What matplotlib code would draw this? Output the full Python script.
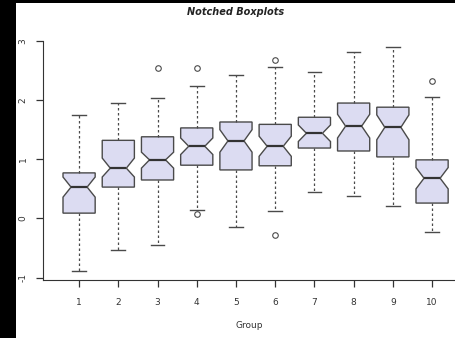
import matplotlib
matplotlib.use('Agg')
import matplotlib.pyplot as plt
from matplotlib.patches import Rectangle

# box statistics (10 groups)
groups = ['1', '2', '3', '4', '5', '6', '7', '8', '9', '10']
whis_lo = [-0.89, -0.53, -0.45, 0.14, -0.14, 0.13, 0.45, 0.38, 0.21, -0.23]
q1 = [0.09, 0.53, 0.65, 0.90, 0.82, 0.89, 1.19, 1.14, 1.04, 0.26]
med = [0.53, 0.85, 0.99, 1.22, 1.31, 1.22, 1.44, 1.56, 1.54, 0.68]
q3 = [0.77, 1.32, 1.38, 1.53, 1.63, 1.59, 1.71, 1.95, 1.88, 0.99]
whis_hi = [1.75, 1.95, 2.03, 2.24, 2.42, 2.56, 2.47, 2.81, 2.89, 2.05]
ci_lo = [0.36, 0.70, 0.85, 1.08, 1.12, 1.05, 1.30, 1.36, 1.33, 0.50]
ci_hi = [0.70, 1.02, 1.12, 1.36, 1.50, 1.39, 1.58, 1.76, 1.75, 0.86]
outliers = [[], [], [2.54], [2.54, 0.07], [], [2.68, -0.28], [], [], [], [2.32]]

y_ticks = [-1, 0, 1, 2, 3]

stats = []
for i, g in enumerate(groups):
    stats.append({'label': g, 'whislo': whis_lo[i], 'q1': q1[i], 'med': med[i],
                  'q3': q3[i], 'whishi': whis_hi[i], 'cilo': ci_lo[i],
                  'cihi': ci_hi[i], 'fliers': outliers[i]})

fig = plt.figure(figsize=(4.56, 3.38), dpi=100, facecolor='black')
# white page with the black margin on the left and top
fig.patches.append(Rectangle((16 / 456, 0), 1, 335 / 338, transform=fig.transFigure,
                             facecolor='white', edgecolor='none', zorder=-10))

ax = fig.add_axes([43 / 456, 58 / 338, 413 / 456, 245 / 338])
ax.set_facecolor('none')

edge = '#4a4a4a'
ax.bxp(stats, positions=range(1, 11), widths=0.82, capwidths=0.35, shownotches=True,
       patch_artist=True,
       boxprops=dict(facecolor='#dcdcf2', edgecolor=edge, linewidth=1.0),
       medianprops=dict(color='#333333', linewidth=1.6),
       whiskerprops=dict(color=edge, linestyle=(0, (2, 2)), linewidth=0.9),
       capprops=dict(color=edge, linewidth=1.0),
       flierprops=dict(marker='o', markersize=4, markerfacecolor='none',
                       markeredgecolor=edge, markeredgewidth=0.8))

ax.set_xlim(0.08, 10.61)
ax.set_ylim(-1.04, 3.10)
ax.set_yticks(y_ticks)
ax.set_yticklabels([str(t) for t in y_ticks], rotation=90, va='center')
ax.tick_params(axis='both', labelsize=6.5, colors='#333333', length=5, width=0.9)
ax.tick_params(axis='y', pad=6)
ax.tick_params(axis='x', pad=8)

ax.spines['top'].set_visible(False)
ax.spines['right'].set_visible(False)
ax.spines['left'].set_bounds(-1.04, 3)
ax.spines['left'].set_color('#333333')
ax.spines['bottom'].set_color('#333333')

ax.set_xlabel('Group', fontsize=6.5, color='#333333', labelpad=10)
fig.text(236 / 456, 1 - 12 / 338, 'Notched Boxplots', ha='center', va='center',
         fontsize=7, fontweight='bold', fontstyle='italic', color='#222222')

plt.savefig('out.png', dpi=100, facecolor=fig.get_facecolor())
